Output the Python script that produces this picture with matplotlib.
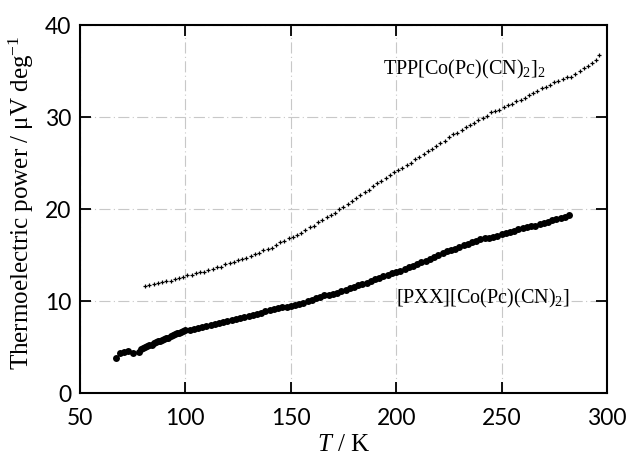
import matplotlib
matplotlib.use("Agg")
import matplotlib.pyplot as plt

plt.rcParams['mathtext.fontset'] = 'custom'
plt.rcParams['mathtext.rm'] = 'Liberation Serif'
plt.rcParams['mathtext.it'] = 'Liberation Serif:italic'

tpp_T = [81, 83, 85, 87, 89, 91, 93, 95, 97, 99, 101, 103, 105, 107, 109, 111, 113, 115, 117, 119,
         121, 123, 125, 127, 129, 131, 133, 135, 137, 139, 141, 143, 145, 147, 149, 151, 153, 155, 157, 159,
         161, 163, 165, 167, 169, 171, 173, 175, 177, 179, 181, 183, 185, 187, 189, 191, 193, 195, 197, 199,
         201, 203, 205, 207, 209, 211, 213, 215, 217, 219, 221, 223, 225, 227, 229, 231, 233, 235, 237, 239,
         241, 243, 245, 247, 249, 251, 253, 255, 257, 259, 261, 263, 265, 267, 269, 271, 273, 275, 277, 279,
         281, 283, 285, 287, 289, 291, 293, 295, 296]
tpp_S = [11.6, 11.7, 11.9, 12.0, 12.1, 12.2, 12.2, 12.4, 12.5, 12.6, 12.8, 12.8, 13.0, 13.2, 13.2, 13.4, 13.5, 13.7, 13.7, 14.0,
         14.1, 14.2, 14.5, 14.6, 14.7, 14.9, 15.1, 15.2, 15.5, 15.7, 15.8, 16.1, 16.4, 16.5, 16.8, 17.0, 17.2, 17.4, 17.7, 18.0,
         18.2, 18.6, 18.8, 19.1, 19.4, 19.6, 20.0, 20.2, 20.5, 20.9, 21.2, 21.5, 21.9, 22.1, 22.5, 22.8, 23.0, 23.4, 23.7, 24.0,
         24.2, 24.5, 24.8, 25.0, 25.4, 25.6, 26.0, 26.3, 26.5, 26.9, 27.2, 27.4, 27.8, 28.1, 28.3, 28.6, 28.9, 29.1, 29.4, 29.7,
         29.9, 30.1, 30.5, 30.7, 30.8, 31.1, 31.3, 31.4, 31.7, 31.9, 32.1, 32.4, 32.6, 32.8, 33.1, 33.3, 33.5, 33.8, 33.9, 34.1,
         34.3, 34.4, 34.7, 35.0, 35.3, 35.5, 35.9, 36.2, 36.7]

pxx_T = [67, 69, 71, 73, 75, 78, 79, 80, 81, 82, 83, 84, 85, 86, 87, 88, 89, 90, 91, 92, 93, 94, 95, 96, 97, 98, 99, 100,
         102, 104, 106, 108, 110, 112, 114, 116, 118, 120, 122, 124, 126, 128, 130, 132, 134, 136, 138, 140,
         142, 144, 146, 148, 150, 152, 154, 156, 158, 160, 162, 164, 166, 168, 170, 172, 174, 176, 178, 180,
         182, 184, 186, 188, 190, 192, 194, 196, 198, 200, 202, 204, 206, 208, 210, 212, 214, 216, 218, 220,
         222, 224, 226, 228, 230, 232, 234, 236, 238, 240, 242, 244, 246, 248, 250, 252, 254, 256, 258, 260,
         262, 264, 266, 268, 270, 272, 274, 276, 278, 280, 282]
pxx_S = [3.8, 4.3, 4.5, 4.6, 4.4, 4.5, 4.8, 4.9, 5.0, 5.1, 5.2, 5.2, 5.4, 5.5, 5.6, 5.6, 5.8, 5.9, 6.0, 6.0, 6.2, 6.3, 6.4, 6.5, 6.5, 6.6, 6.7, 6.8,
         6.9, 7.0, 7.1, 7.2, 7.3, 7.4, 7.5, 7.6, 7.7, 7.8, 7.9, 8.0, 8.1, 8.3, 8.4, 8.5, 8.6, 8.7, 8.9, 9.0,
         9.1, 9.2, 9.3, 9.4, 9.5, 9.6, 9.7, 9.8, 10.0, 10.1, 10.3, 10.4, 10.6, 10.7, 10.8, 10.9, 11.1, 11.2, 11.4, 11.5,
         11.7, 11.9, 12.0, 12.2, 12.4, 12.5, 12.7, 12.8, 13.0, 13.1, 13.3, 13.5, 13.7, 13.8, 14.0, 14.2, 14.4, 14.6, 14.8, 15.0,
         15.2, 15.4, 15.5, 15.7, 15.9, 16.1, 16.2, 16.4, 16.5, 16.7, 16.8, 16.9, 17.0, 17.1, 17.3, 17.4, 17.5, 17.6, 17.8, 17.9,
         18.0, 18.1, 18.2, 18.4, 18.5, 18.6, 18.8, 18.9, 19.0, 19.1, 19.4]

x_ticks = [50, 100, 150, 200, 250, 300]
y_ticks = [0, 10, 20, 30, 40]

fig = plt.figure(figsize=(6.29, 4.56), dpi=100)
ax = fig.add_axes([0.127, 0.136, 0.838, 0.807])

ax.plot(tpp_T, tpp_S, linestyle='none', marker='+', ms=3.5, mew=0.9, color='black')
ax.plot(pxx_T, pxx_S, linestyle='none', marker='o', ms=5, mew=0, color='black')

ax.set_xlim(50, 300)
ax.set_ylim(0, 40)
ax.set_xticks(x_ticks)
ax.set_yticks(y_ticks)
ax.grid(True, color='#c8c8c8', linestyle=(0, (10, 3, 1, 3)), linewidth=0.8)

for s in ax.spines.values():
    s.set_linewidth(1.5)
ax.tick_params(direction='in', length=8, width=1.3, top=True, right=True,
               labelsize=16.5)
ax.tick_params(axis='x', pad=10)
ax.tick_params(axis='y', pad=6)
for lab in ax.get_xticklabels() + ax.get_yticklabels():
    lab.set_family('Lato')

ax.set_xlabel(r'$T$ / K', fontsize=18, family='Liberation Serif', labelpad=4)
ax.set_ylabel('Thermoelectric power / μV deg$^{-1}$', fontsize=18,
              family='Liberation Serif')
ax.yaxis.set_label_coords(-0.083, 0.52)

ax.text(194, 35.3, r'TPP[Co(Pc)(CN)$_{2}$]$_{2}$', fontsize=14.5,
        family='Liberation Serif', ha='left', va='center')
ax.text(200, 10.4, r'[PXX][Co(Pc)(CN)$_{2}$]', fontsize=14.5,
        family='Liberation Serif', ha='left', va='center')

fig.savefig('out.png', dpi=100)
